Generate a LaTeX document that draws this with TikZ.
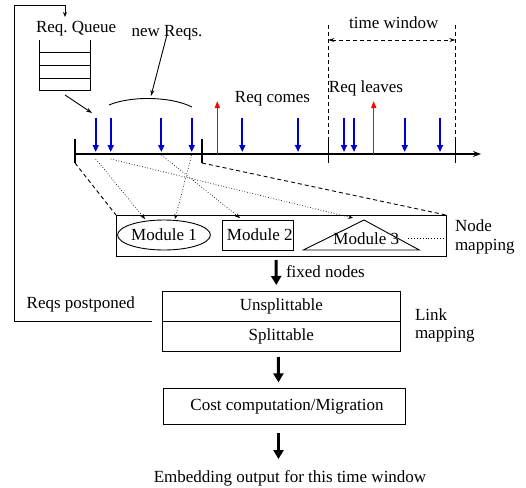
\documentclass[tikz,border=0pt]{standalone}
\usepackage{fontspec}
\setmainfont{Liberation Serif}
\usetikzlibrary{arrows.meta,shapes.geometric,calc}

\definecolor{reqblue}{RGB}{0,0,205}
\definecolor{reqred}{RGB}{255,0,0}

\begin{document}
\begin{tikzpicture}[x=1pt,y=-1pt,
  font=\fontsize{17}{20}\selectfont,
  every node/.style={inner sep=0pt, outer sep=0pt},
  plain/.style={line width=0.9pt},
  axis/.style={line width=1.3pt},
  tick/.style={line width=1.3pt},
  arrivearrow/.style={draw=reqblue, line width=1.8pt, -{Triangle[length=7pt,width=6pt]}},
  leavearrow/.style={draw=reqred, line width=1.3pt, -{Triangle[length=7pt,width=5pt]}},
  maparrow/.style={dotted, line width=0.7pt, -{Stealth[length=5pt,width=4pt]}},
  guide/.style={dashed, line width=0.9pt, dash pattern=on 4pt off 3pt},
  stagearrow/.style={line width=3pt, -{Triangle[length=9pt,width=10pt]}},
  small/.style={plain, -{Stealth[length=6pt,width=4pt]}},
  stage/.style={draw, line width=0.9pt}
]
\useasboundingbox (0,0) rectangle (526,487);

% ---------- request queue ----------
\node[anchor=base west] (qlbl) at (36,33) {Req.\ Queue};
\draw[plain] (39,40) -- (39,90) -- (90,90) -- (90,40);
\foreach \yy in {52.3,65.7,78.3} \draw[plain] (39,\yy) -- (90,\yy);
\coordinate (qout) at (65,95);
\coordinate (qin) at (92,113);
\draw[small] (qout) -- (qin);

% ---------- new requests ----------
\node[anchor=base] (newlbl) at (167,37) {new Reqs.};
\coordinate (arcl) at (109,105);
\coordinate (arcr) at (192,107);
\coordinate (arctop) at (151,96);
\draw[plain] (arcl) .. controls (130,96) and (170,96) .. (arcr);
\draw[small] ([yshift=6]newlbl.south) -- (arctop);

% ---------- time line ----------
\coordinate (t0) at (75,154);
\coordinate (tend) at (481,154);
\draw[axis, -{Stealth[length=8pt,width=6pt]}] (t0) -- (tend);
\foreach \n/\xx in {a/75,b/202,c/328.3,d/455.3}{
  \coordinate (tkt\n) at (\xx,139);
  \coordinate (tkb\n) at (\xx,163);
  \draw[tick] (tkt\n) -- (tkb\n);
}

% arriving requests
\foreach \n/\xx in {1/95.7,2/110.7,3/161.3,4/191.7,5/242.3,6/298,7/344,8/354,9/404.7,10/440}{
  \coordinate (in\n) at (\xx,118);
  \coordinate (at\n) at (\xx,152);
  \draw[arrivearrow] (in\n) -- (at\n);
}
% leaving requests
\foreach \n/\xx in {1/217.3,2/373.7}{
  \coordinate (lv\n) at (\xx,154);
  \coordinate (up\n) at (\xx,101);
  \draw[leavearrow] (lv\n) -- (up\n);
}
\node[anchor=base] (comes) at (272.5,102.7) {Req comes};
\node[anchor=base] (leaves) at (366,92) {Req leaves};

% time window
\node[anchor=base] (twlbl) at (393.7,29) {time window};
\coordinate (twl) at (328.3,25);
\coordinate (twr) at (455.3,25);
\draw[guide] (twl) -- (tktc);
\draw[guide] (twr) -- (tktd);
\draw[guide, {Stealth[length=6pt,width=4pt]}-{Stealth[length=6pt,width=4pt]}]
  ($(twl)+(0,15)$) -- ($(twr)+(0,15)$);

% ---------- node mapping ----------
\node[stage, minimum width=330, minimum height=41] (nmap) at (281,235.5) {};
\draw[guide] (tkba) -- (nmap.north west);
\draw[guide] (tkbb) -- (nmap.north east);

\node[draw, plain, ellipse, minimum width=78, minimum height=30] (m1) at (164,235) {Module 1};
\node[draw, plain, minimum width=71, minimum height=30] (m2) at (257.8,235) {\hspace{4pt}Module 2};
\coordinate (m3l) at (303.3,250);
\coordinate (m3r) at (419.3,250);
\coordinate (m3top) at (364,220);
\draw[plain] (m3l) -- (m3top) -- (m3r) -- cycle;
\node[anchor=base] (m3) at (366.3,244.3) {Module 3};
\draw[dotted, line width=0.9pt] ([xshift=9]m3.east) -- (m3.east -| nmap.east);

\node[anchor=base west] (nml1) at (455,231.5) {Node};
\node[anchor=base west] (nml2) at (455,250) {mapping};

% request -> module mapping
\coordinate (s1) at (95.7,159);
\coordinate (s2) at (110.7,159);
\coordinate (s3) at (161.5,155);
\coordinate (s4) at (191.7,155);
\coordinate (e1) at (145,219);
\coordinate (e2) at (353,218);
\coordinate (e3) at (240,218);
\coordinate (e4) at (175,219);
\draw[maparrow] (s1) -- (e1);
\draw[maparrow] (s2) -- (e2);
\draw[maparrow] (s3) -- (e3);
\draw[maparrow] (s4) -- (e4);

% ---------- link mapping ----------
\node[stage, minimum width=237.3, minimum height=30] (unsp) at (281.3,306) {Unsplittable};
\node[stage, minimum width=237.3, minimum height=30, anchor=north] (spl) at (unsp.south) {Splittable};
\node[anchor=base west] (lml1) at (415,320) {Link};
\node[anchor=base west] (lml2) at (415,338.3) {mapping};

\draw[stagearrow] ($(nmap.south)+(-5,4)$) -- ($(unsp.north)+(-5,-6)$);
\node[anchor=base west] (fixed) at (286,277.3) {fixed nodes};

% postponed requests return to the queue
\node[anchor=base west] (post) at (26.7,308.3) {Reqs postponed};
\coordinate (fb0) at (152,321.5);
\coordinate (fb1) at (14,321.5);
\coordinate (fb2) at (14,5);
\coordinate (fb3) at (65,5);
\coordinate (fb4) at (65,17);
\draw[plain, -{Stealth[length=5pt,width=4pt]}] (fb0) -- (fb1) -- (fb2) -- (fb3) -- (fb4);

% ---------- cost computation ----------
\node[stage, minimum width=242.4, minimum height=35.7] (cost) at (284.5,406.2) {\hspace{5pt}Cost computation/Migration};
\draw[stagearrow] ($(spl.south)+(-3,6)$) -- ($(cost.north)+(-6,-6)$);

\node[anchor=base] (out) at (290,482.8) {Embedding output for this time window};
\draw[stagearrow] ($(cost.south)+(-6,9)$) -- ($(cost.south)+(-6,35)$);
\end{tikzpicture}
\end{document}
